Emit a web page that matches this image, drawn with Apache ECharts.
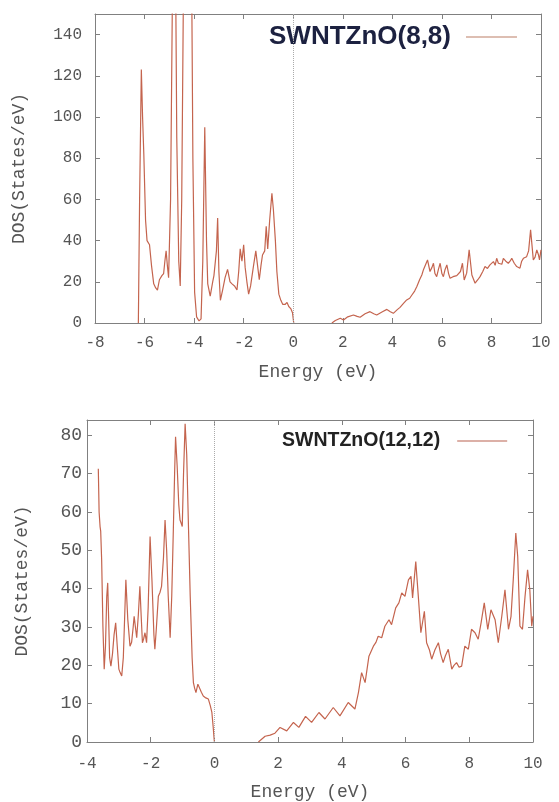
<!DOCTYPE html>
<html>
<head>
<meta charset="utf-8">
<title>SWNTZnO DOS</title>
<script src="https://cdn.jsdelivr.net/npm/echarts@6/dist/echarts.min.js"></script>
<style>
  html, body { margin: 0; padding: 0; background: #fff; }
  #chart { width: 559px; height: 802px; }
</style>
</head>
<body>
<div id="chart"></div>
<script>
// [energy eV, DOS states/eV], '-' = gap (DOS is zero, hidden under the axis)
const dos88 = [
  [-6.25, 0], [-6.2, 60], [-6.13, 123], [-6.08, 100], [-6.03, 82], [-5.96, 50], [-5.9, 40], [-5.8, 38],
  [-5.72, 28], [-5.63, 19], [-5.55, 17], [-5.48, 16], [-5.4, 21], [-5.3, 23], [-5.23, 24], [-5.18, 30],
  [-5.13, 35], [-5.08, 28], [-5.03, 22], [-4.95, 60], [-4.8, 260], [-4.7, 90], [-4.62, 30], [-4.56, 18],
  [-4.5, 60], [-4.35, 280], [-4.25, 220], [-4.15, 260], [-4.05, 80], [-3.98, 15], [-3.9, 3], [-3.8, 1],
  [-3.72, 2], [-3.65, 30], [-3.57, 95], [-3.5, 40], [-3.45, 19], [-3.35, 13], [-3.25, 20], [-3.2, 23],
  [-3.1, 35], [-3.05, 51], [-3.0, 25], [-2.94, 11], [-2.85, 16], [-2.75, 22], [-2.65, 26], [-2.55, 20],
  [-2.47, 19], [-2.37, 18], [-2.27, 16], [-2.2, 25], [-2.14, 36], [-2.07, 30], [-2.0, 38], [-1.94, 27],
  [-1.87, 20], [-1.8, 14], [-1.72, 18], [-1.6, 28], [-1.51, 35], [-1.44, 28], [-1.37, 21], [-1.3, 28],
  [-1.24, 33], [-1.15, 35], [-1.09, 47], [-1.03, 36], [-0.95, 50], [-0.86, 63], [-0.8, 55], [-0.72, 40],
  [-0.66, 25], [-0.58, 14], [-0.5, 11], [-0.42, 9], [-0.33, 9], [-0.25, 10], [-0.18, 8], [-0.1, 7],
  [-0.03, 5], [0.02, 0], [0.8, '-'], [1.56, 0], [1.7, 1.2], [1.9, 2.3], [2.03, 1.5], [2.2, 3], [2.43, 3.9],
  [2.58, 3.2], [2.7, 2.8], [2.9, 4.5], [3.1, 5.5], [3.25, 4.5], [3.37, 3.9], [3.6, 5.5], [3.78, 6.6],
  [3.92, 5.5], [4.04, 4.7], [4.2, 6.5], [4.31, 7.6], [4.45, 9.5], [4.58, 11.2], [4.7, 12], [4.79, 13.6],
  [4.9, 15.5], [4.99, 17.7], [5.1, 21], [5.19, 23.3], [5.26, 26], [5.32, 25.8], [5.42, 30.6], [5.52, 25],
  [5.6, 27], [5.66, 29], [5.72, 24], [5.79, 22.5], [5.86, 26], [5.93, 29], [6.0, 24], [6.06, 22.5],
  [6.13, 26], [6.2, 28.2], [6.27, 24], [6.33, 21.7], [6.45, 22.5], [6.53, 21.7], [6.6, 23], [6.67, 22.5],
  [6.75, 25], [6.83, 29], [6.9, 20.9], [7.0, 24.2], [7.1, 35.5], [7.21, 23.3], [7.34, 19.3], [7.45, 21],
  [7.54, 22.5], [7.65, 25], [7.74, 27.4], [7.84, 26.5], [7.94, 28.2], [8.08, 29.8], [8.15, 28], [8.21, 31.4],
  [8.28, 29], [8.35, 29.8], [8.42, 28.5], [8.48, 31.4], [8.58, 30], [8.68, 29], [8.75, 30], [8.82, 31.4],
  [8.92, 29], [9.02, 27.4], [9.15, 26.6], [9.22, 30], [9.29, 31.4], [9.42, 32.2], [9.5, 35], [9.58, 45.2],
  [9.65, 36], [9.69, 30.6], [9.76, 32], [9.83, 35.5], [9.9, 33], [9.94, 30.6], [10.0, 35.5]
];

const dos1212 = [
  [-3.645, 71.3], [-3.62, 60], [-3.59, 56.2], [-3.57, 55], [-3.54, 47.5], [-3.5, 30], [-3.46, 19], [-3.42, 25],
  [-3.38, 38], [-3.35, 41.5], [-3.32, 32], [-3.29, 22], [-3.25, 19.8], [-3.2, 23], [-3.15, 28], [-3.1, 31.1],
  [-3.05, 25], [-3.0, 19], [-2.96, 18.1], [-2.91, 17.2], [-2.86, 22], [-2.82, 32], [-2.78, 42.3], [-2.72, 32],
  [-2.65, 25], [-2.6, 26], [-2.55, 30], [-2.52, 32.8], [-2.48, 30], [-2.44, 27.2], [-2.39, 33], [-2.34, 40.6],
  [-2.3, 33], [-2.26, 25.9], [-2.22, 27], [-2.18, 28.5], [-2.13, 25.9], [-2.08, 35], [-2.02, 53.6], [-1.96, 42],
  [-1.9, 28], [-1.87, 24.2], [-1.82, 30], [-1.76, 38], [-1.71, 39], [-1.66, 40.6], [-1.6, 48], [-1.55, 57.9],
  [-1.5, 50], [-1.45, 38], [-1.39, 27.2], [-1.34, 38], [-1.29, 55.3], [-1.25, 70], [-1.22, 79.6], [-1.17, 72],
  [-1.12, 62], [-1.08, 57.9], [-1.04, 57], [-1.01, 56.2], [-0.97, 70], [-0.92, 83], [-0.87, 75], [-0.82, 57.9],
  [-0.76, 38], [-0.7, 22], [-0.66, 15.5], [-0.62, 14], [-0.58, 12.9], [-0.52, 15.1], [-0.47, 15.1], [-0.41, 13],
  [-0.35, 12], [-0.27, 11.5], [-0.19, 11.2], [-0.13, 9.5], [-0.08, 7.7], [-0.04, 4], [-0.01, 0.8], [0.0, 0],
  [0.7, '-'], [1.38, 0], [1.59, 1.5], [1.75, 1.8], [1.9, 2.3], [2.06, 3.8], [2.27, 2.9], [2.48, 5.1], [2.65, 3.8],
  [2.86, 6.7], [3.05, 5.1], [3.28, 7.7], [3.47, 6], [3.73, 9], [3.94, 6.8], [4.2, 10.3], [4.41, 8.6],
  [4.52, 12.9], [4.62, 18.1], [4.73, 15.5], [4.85, 22.4], [4.99, 25], [5.07, 26], [5.14, 27.6], [5.25, 27.2],
  [5.35, 30.2], [5.48, 31.9], [5.56, 30.6], [5.69, 35], [5.79, 36.3], [5.88, 38.9], [5.98, 38], [6.09, 42.3],
  [6.17, 43.2], [6.22, 37.6], [6.32, 47.1], [6.4, 38], [6.48, 28.5], [6.59, 34.1], [6.66, 25.9], [6.75, 24],
  [6.82, 21.6], [6.92, 24], [7.03, 25.9], [7.1, 23], [7.18, 20.7], [7.25, 22.5], [7.34, 24.2], [7.45, 19],
  [7.52, 20], [7.6, 20.7], [7.68, 19.5], [7.76, 19.8], [7.86, 25], [7.97, 24.2], [8.07, 29.4], [8.18, 28.5],
  [8.28, 26.8], [8.37, 31.1], [8.47, 36.3], [8.58, 29.4], [8.68, 34.5], [8.81, 31.9], [8.91, 25.9], [9.02, 32.8],
  [9.12, 39.7], [9.23, 29.4], [9.31, 32.8], [9.38, 42.3], [9.46, 54.5], [9.52, 48.4], [9.59, 30.2], [9.67, 29.4],
  [9.75, 38], [9.83, 44.9], [9.9, 39.7], [9.96, 30.2], [10.0, 32.8]
];

const names = ['SWNTZnO(8,8)', 'SWNTZnO(12,12)'];
const xRange = [[-8, 10], [-4, 10]];
const yRange = [[0, 150, 20], [0, 84, 10]];

const lineColor = '#c4644e';
const frameColor = '#808080';
const mono = "'Liberation Mono', 'DejaVu Sans Mono', monospace";

// gnuplot style box: real axis + mirrored one with ticks only
function xAxis(grid, main, opts) {
  return {
    type: 'value', gridIndex: grid, position: main ? 'bottom' : 'top',
    min: xRange[grid][0], max: xRange[grid][1], interval: 2,
    axisLine: { show: true, onZero: false, lineStyle: { color: frameColor, width: 1 } },
    axisTick: { show: true, inside: true, length: 5, lineStyle: { color: frameColor } },
    axisLabel: main ? { show: true, margin: opts.margin, fontFamily: mono, fontSize: 16, color: '#555' } : { show: false },
    splitLine: { show: false },
    name: main ? 'Energy (eV)' : '', nameLocation: 'middle', nameGap: main ? opts.nameGap : 0,
    nameTextStyle: { fontFamily: mono, fontSize: 18, color: '#555' }
  };
}

function yAxis(grid, main, opts) {
  return {
    type: 'value', gridIndex: grid, position: main ? 'left' : 'right',
    min: yRange[grid][0], max: yRange[grid][1], interval: yRange[grid][2],
    axisLine: { show: true, onZero: false, lineStyle: { color: frameColor, width: 1 } },
    axisTick: { show: true, inside: true, length: 5, lineStyle: { color: frameColor } },
    axisLabel: main ? { show: true, showMaxLabel: false, margin: opts.margin, fontFamily: mono, fontSize: opts.fontSize, color: '#555' } : { show: false },
    splitLine: { show: false },
    name: main ? 'DOS(States/eV)' : '', nameLocation: 'middle', nameGap: main ? opts.nameGap : 0,
    nameTextStyle: { fontFamily: mono, fontSize: 18, color: '#555' }
  };
}

function dosSeries(name, data, idx) {
  return {
    name: name, type: 'line', data: data,
    xAxisIndex: idx * 2, yAxisIndex: idx * 2,
    showSymbol: false, clip: true, silent: true, connectNulls: false,
    lineStyle: { color: lineColor, width: 1.2 },
    itemStyle: { color: lineColor },
    // Fermi level
    markLine: {
      silent: true, symbol: ['none', 'none'], label: { show: false },
      lineStyle: { type: 'dotted', color: '#aaa', width: 1 },
      data: [{ xAxis: 0 }]
    }
  };
}

const chart = echarts.init(document.getElementById('chart'));
chart.setOption({
  animation: false,
  backgroundColor: '#fff',
  grid: [
    { left: 95, top: 14, width: 446, height: 309 },
    { left: 87, top: 420, width: 446, height: 323 }
  ],
  xAxis: [
    xAxis(0, true, { margin: 12, nameGap: 40 }), xAxis(0, false),
    xAxis(1, true, { margin: 14, nameGap: 41 }), xAxis(1, false)
  ],
  yAxis: [
    yAxis(0, true, { margin: 13, nameGap: 67, fontSize: 16 }), yAxis(0, false),
    yAxis(1, true, { margin: 5, nameGap: 56, fontSize: 18 }), yAxis(1, false)
  ],
  legend: [
    {
      left: 264, top: 19, align: 'right', selectedMode: false,
      icon: 'rect', itemWidth: 51, itemHeight: 1.5,
      textStyle: { fontFamily: "'Liberation Sans', Arial, sans-serif", fontWeight: 'bold', fontSize: 26, color: '#1c2140', padding: [0, 10, 0, 0] },
      data: [{ name: names[0], itemStyle: { color: '#d2a898' } }]
    },
    {
      left: 277, top: 426, align: 'right', selectedMode: false,
      icon: 'rect', itemWidth: 50, itemHeight: 1.5,
      textStyle: { fontFamily: "'Liberation Sans', Arial, sans-serif", fontWeight: 'bold', fontSize: 19.5, color: '#222', padding: [0, 12, 0, 0] },
      data: [{ name: names[1], itemStyle: { color: '#d0968a' } }]
    }
  ],
  series: [
    dosSeries(names[0], dos88, 0),
    dosSeries(names[1], dos1212, 1)
  ]
});
</script>
</body>
</html>
